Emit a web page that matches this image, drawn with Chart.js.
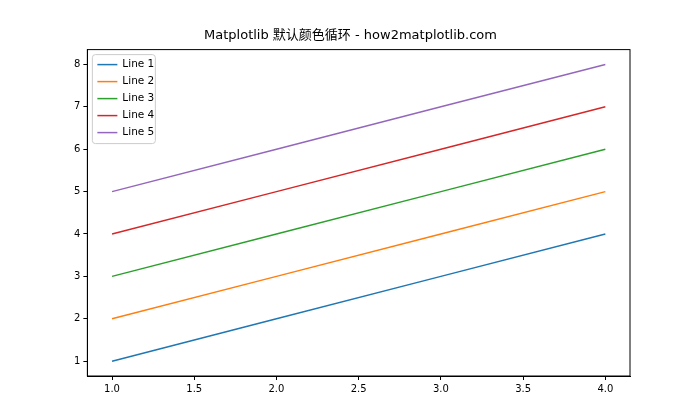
<!DOCTYPE html>
<html>
<head>
<meta charset="utf-8">
<script src="https://cdn.jsdelivr.net/npm/chart.js@4"></script>
<style>body{margin:0;background:#fff}</style>
</head>
<body>
<canvas id="c" width="700" height="420"></canvas>
<script>
const xValues = [1, 2, 3, 4];
const line1 = [1, 2, 3, 4];
const line2 = [2, 3, 4, 5];
const line3 = [3, 4, 5, 6];
const line4 = [4, 5, 6, 7];
const line5 = [5, 6, 7, 8];
const seriesNames = ['Line 1', 'Line 2', 'Line 3', 'Line 4', 'Line 5'];
const colors = ['#1f77b4', '#ff7f0e', '#2ca02c', '#d62728', '#9467bd'];
const xTicks = [1.0, 1.5, 2.0, 2.5, 3.0, 3.5, 4.0];
const yTicks = [1, 2, 3, 4, 5, 6, 7, 8];
const font = "'DejaVu Sans', 'Noto Sans CJK SC', sans-serif";

const datasets = [line1, line2, line3, line4, line5].map(function(vals, i) {
    return {
        label: seriesNames[i],
        data: vals.map(function(v, j) { return {x: xValues[j], y: v}; }),
        borderColor: colors[i],
        backgroundColor: colors[i],
        borderWidth: 1.5,
        pointRadius: 0,
        tension: 0
    };
});

// frame around the plot and a legend inside it, the way matplotlib draws them
const framePlugin = {
    id: 'frame',
    afterDraw: function(chart) {
        const a = chart.chartArea, ctx = chart.ctx;
        ctx.save();
        ctx.strokeStyle = '#000';
        ctx.lineWidth = 1;
        ctx.strokeRect(a.left, a.top, a.right - a.left, a.bottom - a.top);
        const bx = a.left + 5, by = a.top + 5, rowH = 17;
        ctx.fillStyle = 'rgba(255,255,255,0.8)';
        ctx.strokeStyle = '#ccc';
        ctx.beginPath();
        ctx.roundRect(bx, by, 63, rowH * datasets.length + 4, 3);
        ctx.fill();
        ctx.stroke();
        ctx.font = '10.5px ' + font;
        ctx.textBaseline = 'middle';
        datasets.forEach(function(d, i) {
            const y = by + 10 + i * rowH;
            ctx.strokeStyle = d.borderColor;
            ctx.lineWidth = 1.5;
            ctx.beginPath();
            ctx.moveTo(bx + 5, y);
            ctx.lineTo(bx + 25, y);
            ctx.stroke();
            ctx.fillStyle = '#000';
            ctx.fillText(d.label, bx + 30, y);
        });
        ctx.restore();
    }
};

new Chart(document.getElementById('c').getContext('2d'), {
    type: 'line',
    data: { datasets: datasets },
    options: {
        responsive: false,
        animation: false,
        layout: { padding: { left: 71, right: 70, top: 8, bottom: 22 } },
        plugins: {
            legend: { display: false },
            tooltip: { enabled: false },
            title: {
                display: true,
                text: 'Matplotlib 默认颜色循环 - how2matplotlib.com',
                color: '#000',
                font: { family: font, size: 13, weight: 'normal' },
                padding: { top: 20, bottom: 6 }
            }
        },
        scales: {
            x: {
                type: 'linear',
                min: 0.85, max: 4.15,
                afterBuildTicks: function(s) { s.ticks = xTicks.map(function(v) { return {value: v}; }); },
                grid: { drawOnChartArea: false, tickLength: 4, color: '#000' },
                border: { color: '#000' },
                ticks: { color: '#000', font: { family: font, size: 10 }, padding: 3,
                    callback: function(v) { return Number(v).toFixed(1); } }
            },
            y: {
                min: 0.65, max: 8.35,
                afterBuildTicks: function(s) { s.ticks = yTicks.map(function(v) { return {value: v}; }); },
                grid: { drawOnChartArea: false, tickLength: 4, color: '#000' },
                border: { color: '#000' },
                ticks: { color: '#000', font: { family: font, size: 10 }, padding: 3 }
            }
        }
    },
    plugins: [framePlugin]
});
</script>
</body>
</html>
